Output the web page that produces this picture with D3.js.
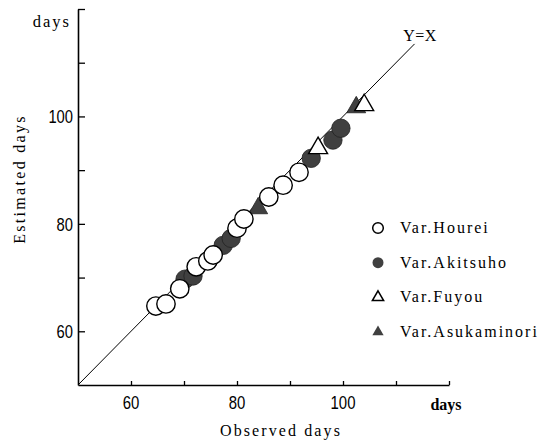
<!DOCTYPE html>
<html><head><meta charset="utf-8">
<script src="https://cdn.jsdelivr.net/npm/d3@7"></script>
<style>body{margin:0;background:#fff}svg{display:block}</style>
</head><body>
<svg id="c" width="553" height="440"></svg>
<script>
// ---- data (observed, estimated) ----
const houreiObs = [64.7, 66.6, 69.2, 72.3, 74.5, 75.5, 80.0, 81.3, 86.0, 88.7, 91.7];
const houreiEst = [64.7, 65.1, 67.9, 72.0, 73.1, 74.2, 79.2, 80.9, 85.0, 87.2, 89.6];
const akitsuhoObs = [70.2, 71.7, 77.4, 78.9, 94.0, 98.1, 99.6];
const akitsuhoEst = [69.7, 70.3, 76.0, 77.3, 92.2, 95.6, 97.8];
const fuyouObs = [95.3, 104.0];
const fuyouEst = [94.1, 102.1];
const asukaObs = [84.0, 102.5];
const asukaEst = [82.9, 101.7];
const legendLabels = ["Var.Hourei", "Var.Akitsuho", "Var.Fuyou", "Var.Asukaminori"];
const xTickLabels = [60, 80, 100];
const yTickLabels = [60, 80, 100];
const minorTicks = [50, 60, 70, 80, 90, 100, 110, 120];
const lineRange = [50, 113.5];

const svg = d3.select("#c");
const x = d3.scaleLinear().domain([50, 120]).range([78, 449]);
const y = d3.scaleLinear().domain([50, 120]).range([385, 9]);
const serif = "'Liberation Serif','DejaVu Serif',serif";
const digitFont = "'Liberation Sans Narrow','Liberation Sans',sans-serif";
const dark = "#404040";

// axes
const xAxis = d3.axisBottom(x).tickValues(minorTicks.filter(v => v > 50)).tickSizeInner(-4).tickSizeOuter(0).tickFormat("");
const gx = svg.append("g").attr("transform", `translate(0,${y(50)})`).call(xAxis);
const yAxis = d3.axisLeft(y).tickValues(minorTicks.filter(v => v > 50)).tickSizeInner(-7).tickSizeOuter(0).tickFormat("");
const gy = svg.append("g").attr("transform", `translate(${x(50)},0)`).call(yAxis);
[gx, gy].forEach(g => {
  g.select(".domain").attr("stroke", "#000").attr("stroke-width", 1.6);
  g.selectAll(".tick line").attr("stroke", "#000").attr("stroke-width", 1.3);
});

// tick labels
svg.selectAll(".xl").data(xTickLabels).enter().append("text")
  .attr("x", d => x(d)).attr("y", 409).attr("text-anchor", "middle")
  .attr("font-family", digitFont).attr("font-size", 19)
  .attr("textLength", d => String(d).length * 8.3).attr("lengthAdjust", "spacingAndGlyphs")
  .text(d => d);
svg.selectAll(".yl").data(yTickLabels).enter().append("text")
  .attr("x", 73).attr("y", d => y(d) + 7).attr("text-anchor", "end")
  .attr("font-family", digitFont).attr("font-size", 19)
  .attr("textLength", d => String(d).length * 8.2).attr("lengthAdjust", "spacingAndGlyphs")
  .text(d => d);

// unit labels
svg.append("text").attr("x", 71).attr("y", 27).attr("text-anchor", "end")
  .attr("font-family", serif).attr("font-size", 16.5).attr("letter-spacing", 2).text("days");
svg.append("text").attr("x", 446).attr("y", 410).attr("text-anchor", "middle")
  .attr("font-family", serif).attr("font-size", 16).attr("font-weight", "bold").text("days");

// axis titles
svg.append("text").attr("x", 281).attr("y", 436).attr("text-anchor", "middle")
  .attr("font-family", serif).attr("font-size", 16).attr("letter-spacing", 2.1).text("Observed days");
svg.append("text").attr("transform", "translate(25,179) rotate(-90)").attr("text-anchor", "middle")
  .attr("font-family", serif).attr("font-size", 16).attr("letter-spacing", 2.3).text("Estimated days");

// Y=X line
svg.append("line").attr("x1", x(lineRange[0])).attr("y1", y(lineRange[0]))
  .attr("x2", x(lineRange[1])).attr("y2", y(lineRange[1])).attr("stroke", "#000").attr("stroke-width", 1);
svg.append("text").attr("x", 420).attr("y", 41).attr("text-anchor", "middle")
  .attr("font-family", serif).attr("font-size", 16).attr("letter-spacing", 0.5).text("Y=X");

// points
const tri = d3.symbol().type(d3.symbolTriangle).size(155);
const zip = (a, b) => a.map((v, i) => [v, b[i]]);
svg.append("g").selectAll("circle").data(zip(akitsuhoObs, akitsuhoEst)).enter().append("circle")
  .attr("cx", d => x(d[0])).attr("cy", d => y(d[1])).attr("r", 9.2)
  .attr("fill", dark).attr("stroke", "#222").attr("stroke-width", 0.8);
svg.append("g").selectAll("path").data(zip(asukaObs, asukaEst)).enter().append("path")
  .attr("d", tri).attr("transform", d => `translate(${x(d[0])},${y(d[1])})`)
  .attr("fill", dark).attr("stroke", "#222").attr("stroke-width", 0.8);
svg.append("g").selectAll("circle").data(zip(houreiObs, houreiEst)).enter().append("circle")
  .attr("cx", d => x(d[0])).attr("cy", d => y(d[1])).attr("r", 9.2)
  .attr("fill", "#fff").attr("stroke", "#000").attr("stroke-width", 1.4);
svg.append("g").selectAll("path").data(zip(fuyouObs, fuyouEst)).enter().append("path")
  .attr("d", tri).attr("transform", d => `translate(${x(d[0])},${y(d[1])})`)
  .attr("fill", "#fff").attr("stroke", "#000").attr("stroke-width", 1.4);

// legend
const lg = svg.append("g");
const ly = d3.scalePoint().domain(legendLabels).range([228, 332]);
const smallTri = d3.symbol().type(d3.symbolTriangle).size(55);
legendLabels.forEach((lab, i) => {
  const cy = ly(lab);
  if (i === 0) lg.append("circle").attr("cx", 378).attr("cy", cy).attr("r", 5.3).attr("fill", "#fff").attr("stroke", "#000").attr("stroke-width", 1.5);
  if (i === 1) lg.append("circle").attr("cx", 378).attr("cy", cy).attr("r", 5.5).attr("fill", dark);
  if (i === 2) lg.append("path").attr("d", smallTri).attr("transform", `translate(378,${cy})`).attr("fill", "#fff").attr("stroke", "#000").attr("stroke-width", 1.5);
  if (i === 3) lg.append("path").attr("d", smallTri).attr("transform", `translate(378,${cy})`).attr("fill", dark);
  lg.append("text").attr("x", 400).attr("y", cy + 5).attr("font-family", serif)
    .attr("font-size", 16).attr("letter-spacing", 2).text(lab);
});
</script>
</body></html>
